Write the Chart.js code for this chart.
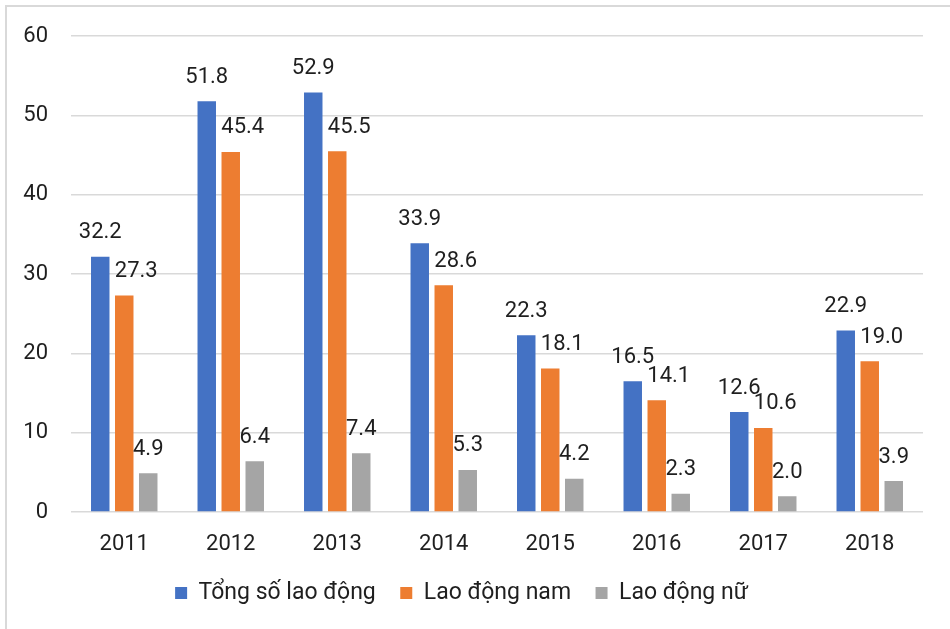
<!DOCTYPE html>
<html>
<head>
<meta charset="utf-8">
<script src="https://cdn.jsdelivr.net/npm/chart.js@4"></script>
<style>
  html, body { margin: 0; padding: 0; background: #ffffff; }
  canvas { display: block; }
</style>
</head>
<body>
<canvas id="chart" width="950" height="629"></canvas>
<script>
// Years on the category axis
const years = ['2011', '2012', '2013', '2014', '2015', '2016', '2017', '2018'];

// Series values
const tongSoLaoDong = [32.2, 51.8, 52.9, 33.9, 22.3, 16.5, 12.6, 22.9];
const laoDongNam    = [27.3, 45.4, 45.5, 28.6, 18.1, 14.1, 10.6, 19.0];
const laoDongNu     = [4.9, 6.4, 7.4, 5.3, 4.2, 2.3, 2.0, 3.9];

// Series names
const seriesNames = ['Tổng số lao động', 'Lao động nam', 'Lao động nữ'];

// Y axis ticks
const yTicks = [0, 10, 20, 30, 40, 50, 60];

const FONT = 'Roboto, "Noto Sans", "DejaVu Sans", sans-serif';
const TEXT = '#1f1f1f';

// Horizontal nudge for each series' value labels
const labelShift = [0, 12, 0];

// Value labels above each bar
const valueLabels = {
  id: 'valueLabels',
  afterDatasetsDraw(chart) {
    const ctx = chart.ctx;
    ctx.save();
    ctx.font = '22px ' + FONT;
    ctx.fillStyle = TEXT;
    ctx.textAlign = 'center';
    ctx.textBaseline = 'middle';
    chart.data.datasets.forEach((ds, di) => {
      const meta = chart.getDatasetMeta(di);
      meta.data.forEach((bar, i) => {
        ctx.fillText(ds.data[i].toFixed(1), bar.x + labelShift[di], bar.y - 24);
      });
    });
    ctx.restore();
  }
};

// Light frame along the top and left edges
const frame = {
  id: 'frame',
  beforeDraw(chart) {
    const ctx = chart.ctx;
    ctx.save();
    ctx.strokeStyle = '#d9d9d9';
    ctx.lineWidth = 2;
    ctx.beginPath();
    ctx.moveTo(6, chart.height);
    ctx.lineTo(6, 6);
    ctx.lineTo(chart.width, 6);
    ctx.stroke();
    ctx.restore();
  }
};

new Chart(document.getElementById('chart'), {
  type: 'bar',
  data: {
    labels: years,
    datasets: [
      { label: seriesNames[0], data: tongSoLaoDong, backgroundColor: '#4472C4' },
      { label: seriesNames[1], data: laoDongNam, backgroundColor: '#ED7D31' },
      { label: seriesNames[2], data: laoDongNu, backgroundColor: '#A5A5A5' }
    ]
  },
  options: {
    responsive: false,
    animation: false,
    devicePixelRatio: 1,
    categoryPercentage: 0.676,
    barPercentage: 0.77,
    layout: { padding: { left: 0, right: 27, top: 33, bottom: 14.5 } },
    scales: {
      x: {
        grid: { display: false, drawTicks: false },
        border: { display: false },
        ticks: { color: TEXT, font: { family: FONT, size: 22 }, padding: 19 },
        afterFit(scale) { scale.height = 45; }
      },
      y: {
        min: 0,
        max: 60,
        afterBuildTicks(scale) { scale.ticks = yTicks.map(v => ({ value: v })); },
        grid: { color: '#d9d9d9', lineWidth: 1.5, drawTicks: false },
        border: { display: false },
        ticks: { color: TEXT, font: { family: FONT, size: 22 }, padding: 23 },
        afterFit(scale) { scale.width = 71; }
      }
    },
    plugins: {
      legend: {
        position: 'bottom',
        labels: {
          color: TEXT,
          font: { family: FONT, size: 23 },
          boxWidth: 12,
          boxHeight: 12,
          padding: 24.5
        }
      },
      tooltip: { enabled: false }
    }
  },
  plugins: [frame, valueLabels]
});
</script>
</body>
</html>
